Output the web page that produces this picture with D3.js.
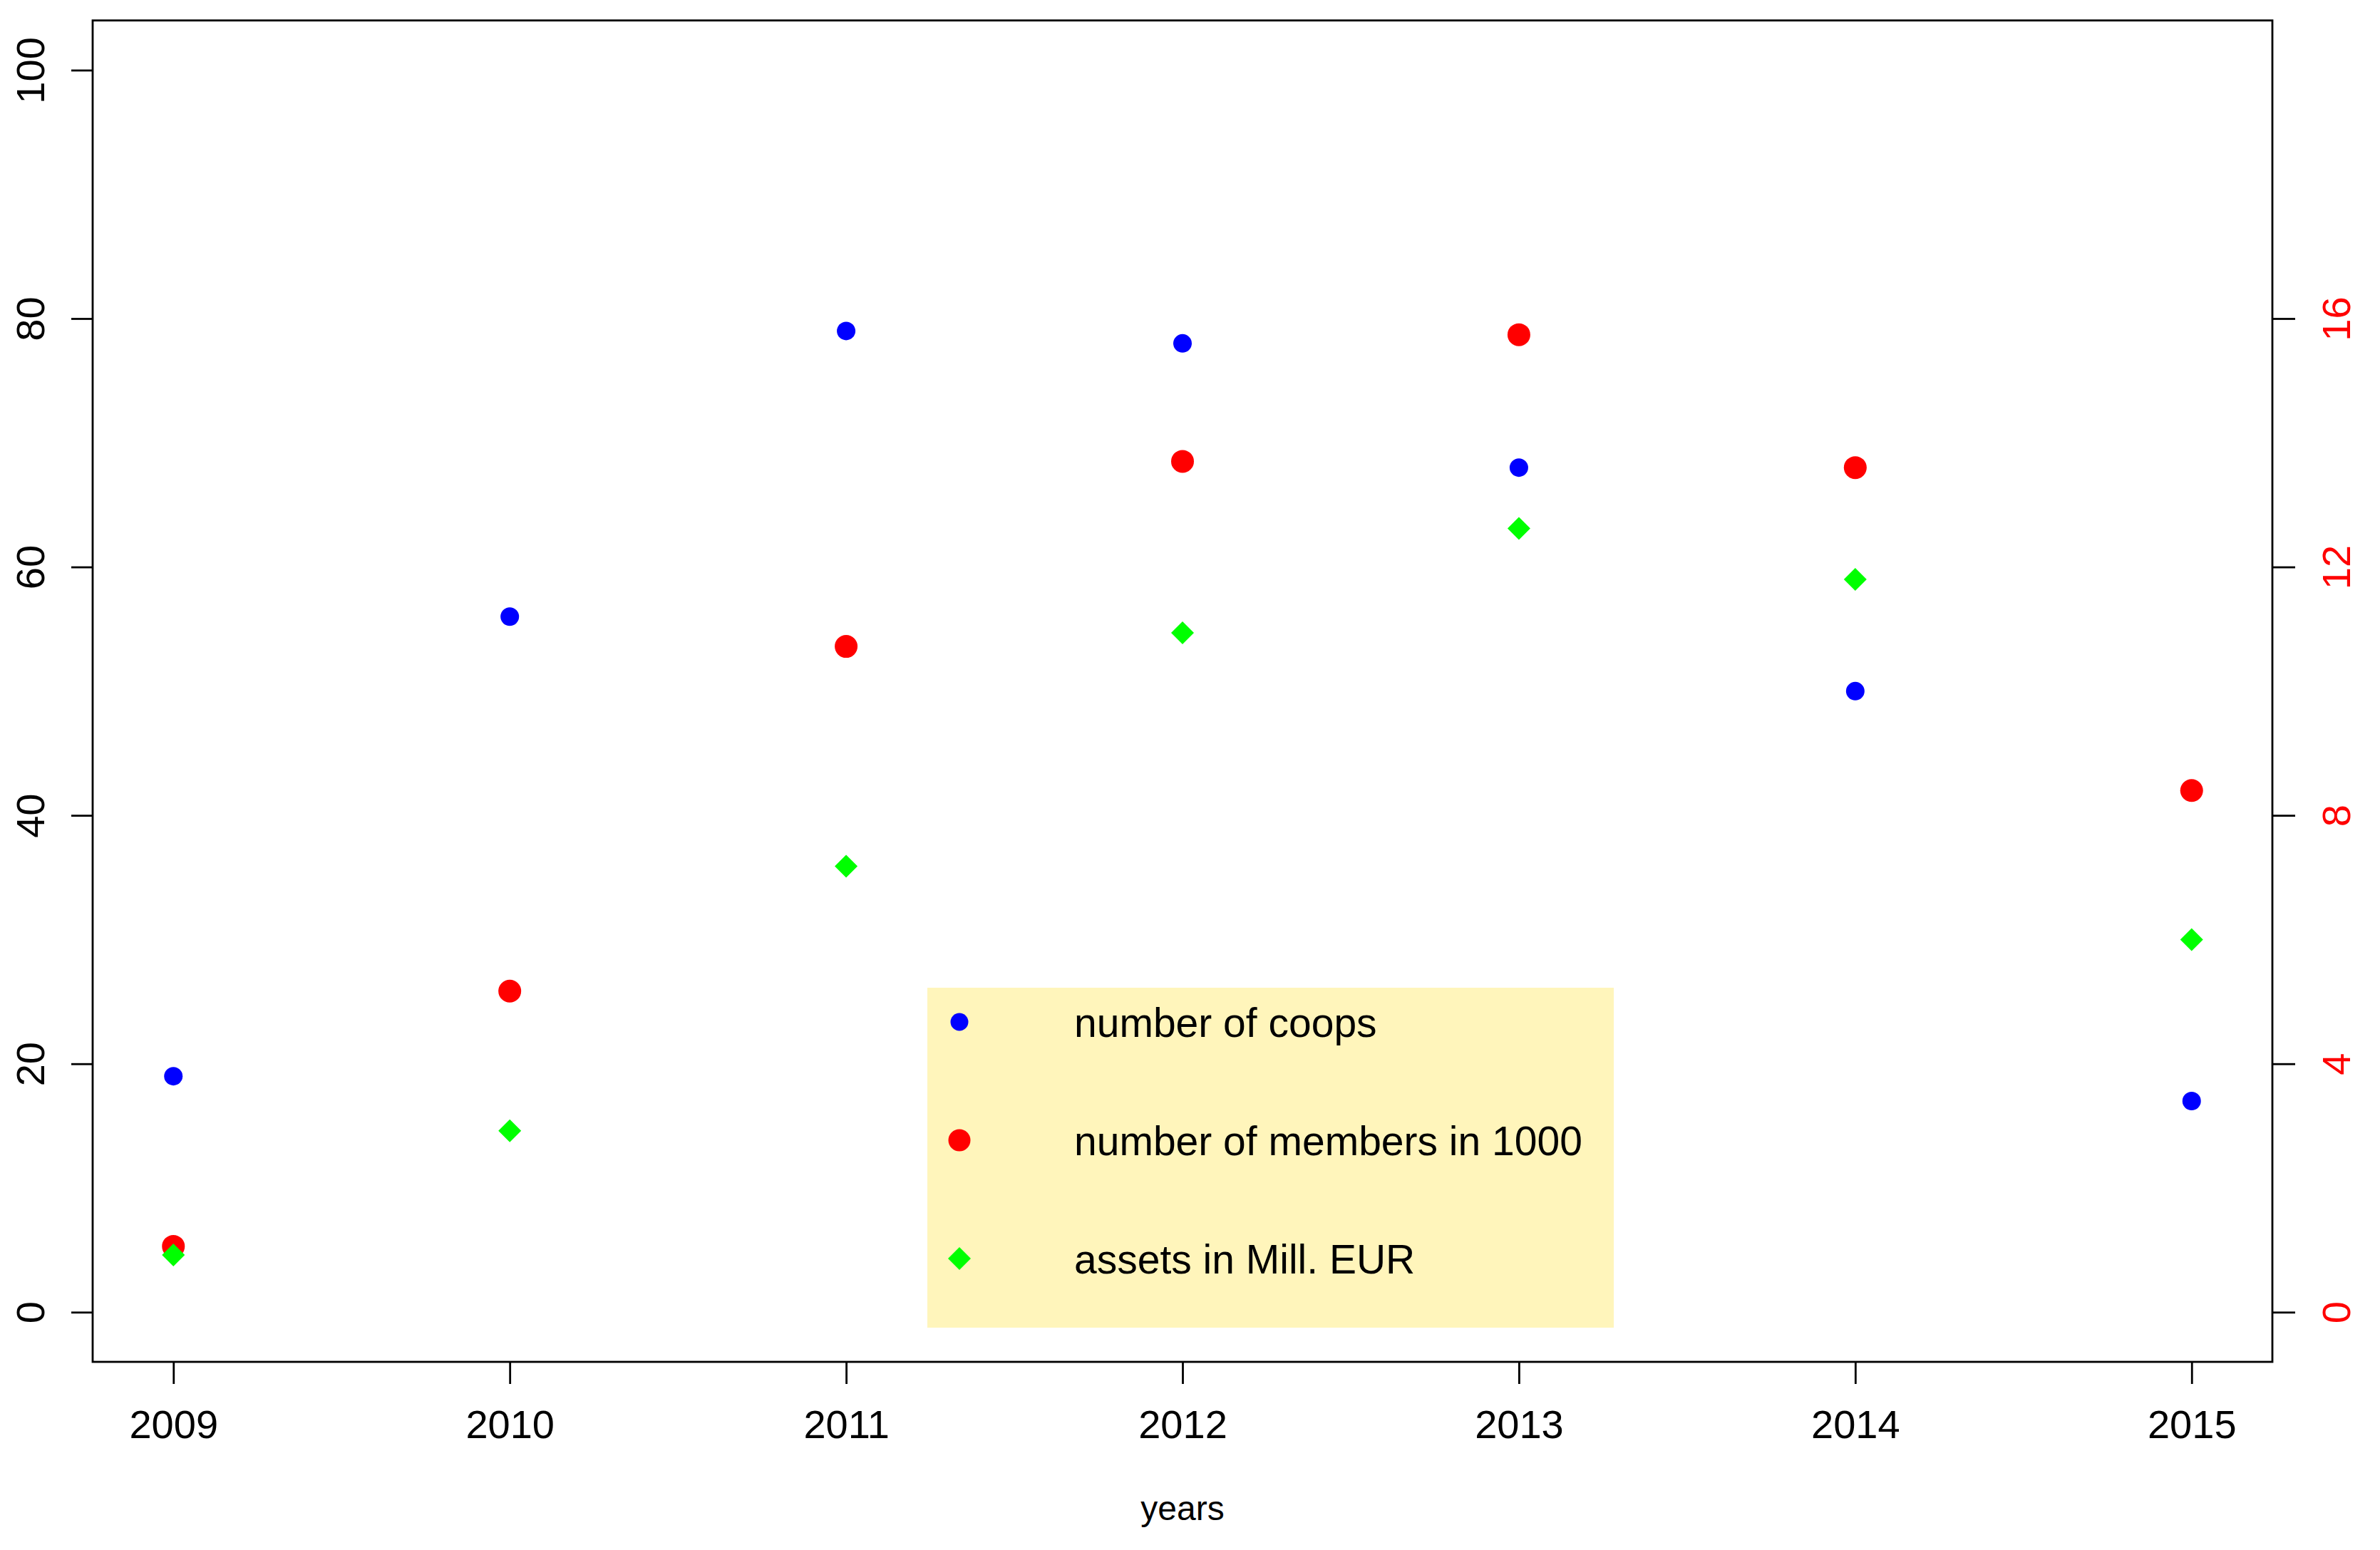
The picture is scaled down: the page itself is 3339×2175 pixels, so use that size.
<!DOCTYPE html>
<html>
<head>
<meta charset="utf-8">
<script src="https://cdn.jsdelivr.net/npm/d3@7"></script>
<style>
  html, body { margin: 0; padding: 0; background: #ffffff; }
  svg { display: block; }
  text { font-family: "Liberation Sans", Arial, Helvetica, sans-serif; }
</style>
</head>
<body>
<script>
// ---------------- data ----------------
const years = [2009, 2010, 2011, 2012, 2013, 2014, 2015];
const coops = [19, 56, 79, 78, 68, 50, 17];                       // left axis
const membersThousand = [1.06, 5.17, 10.72, 13.70, 15.74, 13.6, 8.40]; // right axis
const assetsMillEUR = [4.6, 14.6, 35.9, 54.7, 63.1, 59.0, 30.0];  // left axis units
const leftTicks = [0, 20, 40, 60, 80, 100];
const rightTicks = [0, 4, 8, 12, 16];
const legendLabels = ["number of coops", "number of members in 1000", "assets in Mill. EUR"];
const xLabel = "years";

// ---------------- layout ----------------
const W = 3339, H = 2175;
const plot = { left: 130, right: 3188, top: 28.7, bottom: 1911 };
const fontSize = 56;

const svg = d3.select("body").append("svg")
  .attr("width", W).attr("height", H)
  .attr("viewBox", `0 0 ${W} ${H}`);

svg.append("rect").attr("width", W).attr("height", H).attr("fill", "#ffffff");

const x = d3.scaleLinear().domain([2008.76, 2015.24]).range([plot.left, plot.right]);
const yL = d3.scaleLinear().domain([-4, 104]).range([plot.bottom, plot.top]);
const yR = d3.scaleLinear().domain([-0.8, 20.8]).range([plot.bottom, plot.top]);

// ---------------- axes ----------------
const strokeW = 2.8;

const gx = svg.append("g")
  .attr("transform", `translate(0,${plot.bottom})`)
  .call(d3.axisBottom(x).tickValues(years).tickFormat(d3.format("d"))
    .tickSize(31).tickSizeOuter(0).tickPadding(36));
gx.select(".domain").remove();
gx.selectAll(".tick line").attr("stroke", "#000").attr("stroke-width", strokeW);
gx.selectAll(".tick text").attr("font-size", fontSize).attr("fill", "#000")
  .attr("font-family", "Liberation Sans, Arial, sans-serif");

const gyl = svg.append("g")
  .attr("transform", `translate(${plot.left},0)`)
  .call(d3.axisLeft(yL).tickValues(leftTicks).tickFormat(d3.format("d"))
    .tickSize(30).tickSizeOuter(0));
gyl.select(".domain").remove();
gyl.selectAll(".tick line").attr("stroke", "#000").attr("stroke-width", strokeW);
gyl.selectAll(".tick text")
  .attr("font-size", fontSize).attr("fill", "#000")
  .attr("font-family", "Liberation Sans, Arial, sans-serif")
  .attr("x", null).attr("dy", null).attr("y", null)
  .attr("text-anchor", "middle")
  .attr("transform", "translate(-68,0) rotate(-90)");

const gyr = svg.append("g")
  .attr("transform", `translate(${plot.right},0)`)
  .call(d3.axisRight(yR).tickValues(rightTicks).tickFormat(d3.format("d"))
    .tickSize(32).tickSizeOuter(0));
gyr.select(".domain").remove();
gyr.selectAll(".tick line").attr("stroke", "#000").attr("stroke-width", strokeW);
gyr.selectAll(".tick text")
  .attr("font-size", fontSize).attr("fill", "#ff0000")
  .attr("font-family", "Liberation Sans, Arial, sans-serif")
  .attr("x", null).attr("dy", null).attr("y", null)
  .attr("text-anchor", "middle")
  .attr("transform", "translate(109,0) rotate(-90)");

// box
svg.append("rect")
  .attr("x", plot.left).attr("y", plot.top)
  .attr("width", plot.right - plot.left).attr("height", plot.bottom - plot.top)
  .attr("fill", "none").attr("stroke", "#000").attr("stroke-width", strokeW);

// x label
svg.append("text")
  .attr("x", (plot.left + plot.right) / 2).attr("y", 2133)
  .attr("text-anchor", "middle").attr("font-size", 48).attr("fill", "#000")
  .text(xLabel);

// ---------------- points ----------------
const diamond = (cx, cy, r) => `M${cx},${cy - r}L${cx + r},${cy}L${cx},${cy + r}L${cx - r},${cy}Z`;

svg.append("g").selectAll("circle").data(years).join("circle")
  .attr("cx", d => x(d)).attr("cy", (d, i) => yL(coops[i]))
  .attr("r", 13).attr("fill", "#0000ff");

svg.append("g").selectAll("circle").data(years).join("circle")
  .attr("cx", d => x(d)).attr("cy", (d, i) => yR(membersThousand[i]))
  .attr("r", 16).attr("fill", "#ff0000");

svg.append("g").selectAll("path").data(years).join("path")
  .attr("d", (d, i) => diamond(x(d), yL(assetsMillEUR[i]), 16))
  .attr("fill", "#00ff00");

// ---------------- legend ----------------
const legend = { x: 1301, y: 1386, w: 963, h: 477, symX: 1346, textX: 1507, row0: 1434, rowStep: 166 };
svg.append("rect")
  .attr("x", legend.x).attr("y", legend.y).attr("width", legend.w).attr("height", legend.h)
  .attr("fill", "#fff5bb");

const lg = svg.append("g");
legendLabels.forEach((lab, i) => {
  const cy = legend.row0 + i * legend.rowStep;
  if (i === 0) lg.append("circle").attr("cx", legend.symX).attr("cy", cy).attr("r", 12.5).attr("fill", "#0000ff");
  if (i === 1) lg.append("circle").attr("cx", legend.symX).attr("cy", cy).attr("r", 15.5).attr("fill", "#ff0000");
  if (i === 2) lg.append("path").attr("d", diamond(legend.symX, cy, 16)).attr("fill", "#00ff00");
  lg.append("text").attr("x", legend.textX).attr("y", cy + 21)
    .attr("font-size", 57).attr("fill", "#000").text(lab);
});
</script>
</body>
</html>
